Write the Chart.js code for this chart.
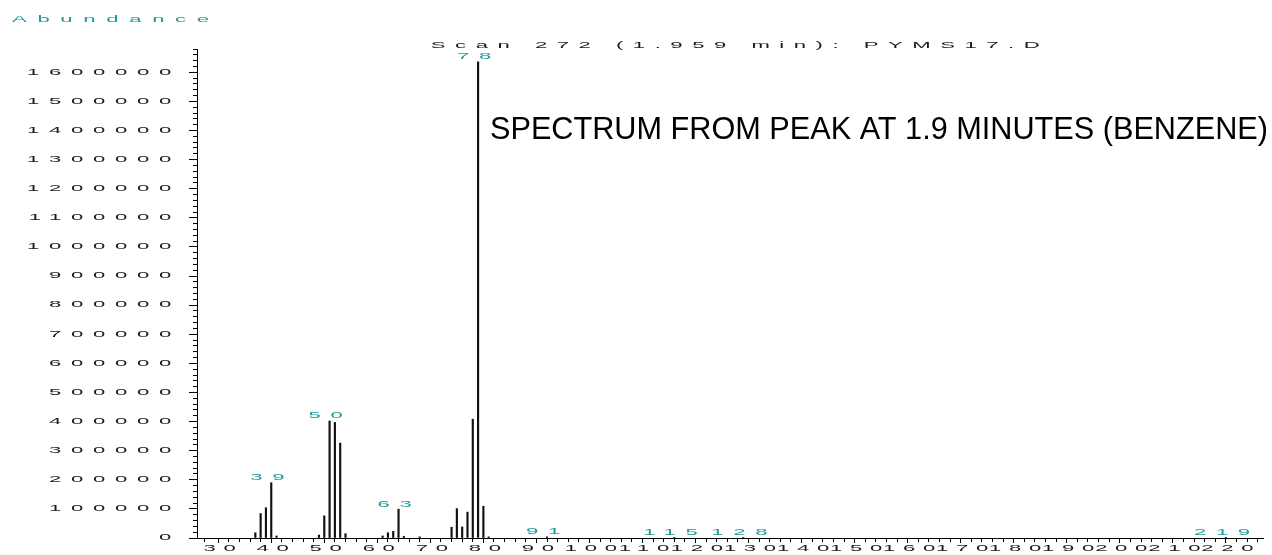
<!DOCTYPE html>
<html>
<head>
<meta charset="utf-8">
<title>Mass spectrum - scan 272</title>
<script src="https://cdn.jsdelivr.net/npm/chart.js@4.4.1/dist/chart.umd.min.js"></script>
<style>
    html, body { margin: 0; padding: 0; background: #fff; }
    #wrap { width: 1272px; height: 555px; }
</style>
</head>
<body>
<div id="wrap"><canvas id="spectrum" width="1272" height="555"></canvas></div>
<script>
// Data
const massToCharge = [36, 37, 38, 39, 40, 48, 49, 50, 51, 52, 53, 60, 61, 62, 63, 64, 67,
    73, 74, 75, 76, 77, 78, 79, 80, 91, 115, 128, 219];
const abundance = [18000, 84000, 104000, 190000, 7000, 10000, 76000, 402000, 397000, 326000, 15000,
    7000, 18000, 23000, 99000, 6000, 4000, 37000, 101000, 38000, 89000, 408000, 1636000, 109000,
    4000, 4000, 2000, 2000, 1500];
const labelledPeaks = [39, 50, 63, 78, 91, 115, 128, 219];

const yAxisName = 'Abundance';
const scanTitle = 'Scan 272 (1.959 min): PYMS17.D';
const note = 'SPECTRUM FROM PEAK AT 1.9 MINUTES (BENZENE)';

// Look
const teal = '#1f9999';
const ink = '#1a1a1a';
const smallFont = '"Liberation Sans", Arial, sans-serif';
const smallSize = 8.5;
// the printout uses flat, wide glyphs spread far apart
const stretch = 2.6;
const spacing = { x: '2.96px', y: '3.73px', title: '3.66px', axisName: '4.1px', peaks: '3.73px' };

// Run draw() with every fillText widened horizontally around its anchor
function widened(ctx, draw) {
    const fill = CanvasRenderingContext2D.prototype.fillText;
    ctx.fillText = function (text, x, y) {
        this.save();
        this.translate(x, y);
        this.scale(stretch, 1);
        fill.call(this, text, 0, 0);
        this.restore();
    };
    try {
        draw();
    } finally {
        delete ctx.fillText;
    }
}

// Each axis draws its labels wide, with its own letter spacing
const wideLabels = {
    id: 'wideLabels',
    afterLayout(chart) {
        Object.values(chart.scales).forEach(scale => {
            if (scale._wide) return;
            const drawLabels = scale.drawLabels.bind(scale);
            scale.drawLabels = (area) => {
                scale.ctx.letterSpacing = spacing[scale.id];
                widened(scale.ctx, () => drawLabels(area));
                scale.ctx.letterSpacing = '0px';
            };
            scale._wide = true;
        });
    }
};

// Peak labels, axis name, scan title and the big note
const annotations = {
    id: 'annotations',
    afterDraw(chart) {
        const { ctx, chartArea, scales } = chart;
        ctx.save();
        ctx.font = smallSize + 'px ' + smallFont;
        ctx.textBaseline = 'middle';

        widened(ctx, () => {
            ctx.letterSpacing = spacing.axisName;
            ctx.fillStyle = teal;
            ctx.textAlign = 'left';
            ctx.fillText(yAxisName, 12, 20);

            ctx.letterSpacing = spacing.title;
            ctx.fillStyle = ink;
            ctx.textAlign = 'center';
            ctx.fillText(scanTitle, (chartArea.left + chartArea.right) / 2 + 10, 46);

            ctx.letterSpacing = spacing.peaks;
            ctx.fillStyle = teal;
            labelledPeaks.forEach(mz => {
                const i = massToCharge.indexOf(mz);
                const x = scales.x.getPixelForValue(mz);
                const y = scales.y.getPixelForValue(abundance[i]) - 5;
                ctx.fillText(String(mz), x + 1, y);
            });
        });

        ctx.letterSpacing = '0px';
        ctx.fillStyle = '#000';
        ctx.textAlign = 'left';
        ctx.textBaseline = 'alphabetic';
        ctx.font = '31px "Liberation Sans", Arial, sans-serif';
        ctx.fillText(note, 490, 139, 778);
        ctx.restore();
    }
};

// Longer marks on labelled ticks, short ones in between
function tickDash(step, longLen, shortLen, fromAxis) {
    return (c) => {
        if (!c.tick || c.tick.value % step === 0) return [];
        return fromAxis ? [shortLen, 100] : [0, longLen - shortLen, shortLen, 100];
    };
}

const ctx = document.getElementById('spectrum').getContext('2d');
new Chart(ctx, {
    type: 'bar',
    data: {
        datasets: [{
            data: massToCharge.map((m, i) => ({ x: m, y: abundance[i] })),
            backgroundColor: '#111',
            barThickness: 1.5
        }]
    },
    options: {
        responsive: false,
        animation: false,
        layout: { padding: { top: 49, right: 9, left: 0, bottom: 0 } },
        plugins: {
            legend: { display: false },
            tooltip: { enabled: false },
            title: { display: false }
        },
        scales: {
            x: {
                type: 'linear',
                min: 25,
                max: 226,
                offset: false,
                border: { color: '#000', width: 1 },
                grid: {
                    drawOnChartArea: false,
                    tickLength: 5,
                    color: '#000',
                    tickBorderDash: tickDash(10, 5, 3, true)
                },
                ticks: {
                    stepSize: 2,
                    autoSkip: false,
                    maxRotation: 0,
                    padding: 1,
                    color: ink,
                    font: { family: smallFont, size: smallSize },
                    callback: v => (v % 10 === 0 ? String(v) : '')
                },
                afterFit: s => { s.height = 17; }
            },
            y: {
                min: 0,
                max: 1680000,
                border: { color: '#000', width: 1 },
                grid: {
                    drawOnChartArea: false,
                    tickLength: 8,
                    color: '#000',
                    tickBorderDash: tickDash(100000, 8, 4, false)
                },
                ticks: {
                    stepSize: 20000,
                    autoSkip: false,
                    padding: 8,
                    color: ink,
                    font: { family: smallFont, size: smallSize },
                    callback: v => (v % 100000 === 0 ? String(v) : '')
                },
                afterFit: s => { s.width = 197; }
            }
        }
    },
    plugins: [wideLabels, annotations]
});
</script>
</body>
</html>
